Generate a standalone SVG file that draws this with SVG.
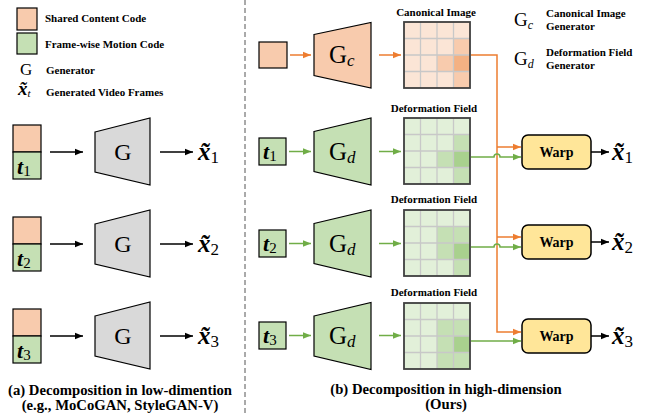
<svg xmlns="http://www.w3.org/2000/svg" width="651" height="415" viewBox="0 0 651 415">
<style>
text{font-family:"Liberation Serif","DejaVu Serif","Times New Roman",serif}
.lbl{font-weight:bold;font-size:11px;fill:#000}
.ttl{font-weight:bold;font-size:11px;fill:#000;text-anchor:middle}
.cap{font-weight:bold;font-size:14.7px;fill:#000;text-anchor:middle}
.m{fill:#000}
.xt{font-weight:bold;font-style:italic;fill:#000}
.wt{font-weight:bold;font-size:14px;fill:#000;text-anchor:middle}
.or{fill:#F8CBAD;stroke:#000;stroke-width:1.2}
.gr{fill:#C5E0B4;stroke:#000;stroke-width:1.2}
.gy{fill:#D9D9D9;stroke:#000;stroke-width:1.2}
.warp{fill:#FFE699;stroke:#000;stroke-width:1.5}
.ab{stroke:#000;stroke-width:1.5;fill:none}
.ao{stroke:#ED7D31;stroke-width:1.5;fill:none}
.ag{stroke:#70AD47;stroke-width:1.5;fill:none}
.gl{stroke:#C8C8C8;stroke-width:1.3;fill:none}
.bd{fill:none;stroke:#3F3F3F;stroke-width:1.8}
.ob{fill:#FBE5D6}.om{fill:#F8CBAD}.od{fill:#F4B183}
.gb{fill:#E2F0D9}.gm{fill:#C5E0B4}.gd{fill:#A9D18E}
</style>
<defs>
<marker id="hb" markerWidth="8" markerHeight="8" refX="8" refY="4" orient="auto" markerUnits="userSpaceOnUse"><path d="M0,0.8 L8,4 L0,7.2z" fill="#000"/></marker>
<marker id="ho" markerWidth="8" markerHeight="8" refX="8" refY="4" orient="auto" markerUnits="userSpaceOnUse"><path d="M0,0.8 L8,4 L0,7.2z" fill="#ED7D31"/></marker>
<marker id="hg" markerWidth="8" markerHeight="8" refX="8" refY="4" orient="auto" markerUnits="userSpaceOnUse"><path d="M0,0.8 L8,4 L0,7.2z" fill="#70AD47"/></marker>
</defs>

<g id="legend-left">
<rect class="or" x="17" y="8" width="20" height="22"/>
<text class="lbl" x="45" y="22">Shared Content Code</text>
<rect class="gr" x="17" y="33" width="20" height="21"/>
<text class="lbl" x="45" y="48">Frame-wise Motion Code</text>
<text class="m" x="20" y="75" font-size="17">G</text>
<text class="lbl" x="46" y="74">Generator</text>
<text class="xt" x="18" y="95" font-size="19">x&#x303;<tspan class="m" font-weight="normal" font-size="11" dy="2">t</tspan></text>
<text class="lbl" x="46" y="96">Generated Video Frames</text>
</g>

<g id="legend-right">
<text class="m" x="514" y="26" font-size="19">G<tspan font-size="12" font-style="italic" dy="3">c</tspan></text>
<text class="lbl" x="546" y="17">Canonical Image</text>
<text class="lbl" x="546" y="30">Generator</text>
<text class="m" x="514" y="65" font-size="19">G<tspan font-size="12" font-style="italic" dy="3">d</tspan></text>
<text class="lbl" x="546" y="56">Deformation Field</text>
<text class="lbl" x="546" y="69">Generator</text>
</g>

<line x1="245" y1="0" x2="245" y2="415" stroke="#555" stroke-width="1" stroke-dasharray="5,3"/>

<g id="code-a1"><rect class="or" x="13" y="125" width="28" height="27"/><rect class="gr" x="13" y="152" width="28" height="27"/><text class="xt" x="17" y="174" font-size="22">t<tspan class="m" font-weight="normal" font-style="normal" font-size="15" dy="2">1</tspan></text></g>
<g id="code-a2"><rect class="or" x="13" y="217" width="28" height="27"/><rect class="gr" x="13" y="244" width="28" height="27"/><text class="xt" x="17" y="266" font-size="22">t<tspan class="m" font-weight="normal" font-style="normal" font-size="15" dy="2">2</tspan></text></g>
<g id="code-a3"><rect class="or" x="13" y="309" width="28" height="27"/><rect class="gr" x="13" y="336" width="28" height="27"/><text class="xt" x="17" y="358" font-size="22">t<tspan class="m" font-weight="normal" font-style="normal" font-size="15" dy="2">3</tspan></text></g>

<g id="gen-a1"><path class="gy" d="M95,132 L150,118 L150,185 L95,172z"/><text class="m" x="123" y="160" font-size="24" text-anchor="middle">G</text></g>
<g id="gen-a2"><path class="gy" d="M95,224 L150,210 L150,277 L95,264z"/><text class="m" x="123" y="252" font-size="24" text-anchor="middle">G</text></g>
<g id="gen-a3"><path class="gy" d="M95,316 L150,302 L150,369 L95,356z"/><text class="m" x="123" y="344" font-size="24" text-anchor="middle">G</text></g>

<g id="out-a1"><text class="xt" x="198" y="160" font-size="25">x&#x303;<tspan class="m" font-weight="normal" font-style="normal" font-size="17" dy="3">1</tspan></text></g>
<g id="out-a2"><text class="xt" x="198" y="252" font-size="25">x&#x303;<tspan class="m" font-weight="normal" font-style="normal" font-size="17" dy="3">2</tspan></text></g>
<g id="out-a3"><text class="xt" x="198" y="344" font-size="25">x&#x303;<tspan class="m" font-weight="normal" font-style="normal" font-size="17" dy="3">3</tspan></text></g>

<g id="content-code"><rect class="or" x="259" y="42" width="28" height="26"/></g>
<g id="gen-c"><path class="or" d="M314,34.5 L371,22.5 L371,88 L314,75.5z"/><text class="m" x="329" y="63" font-size="25">G<tspan font-size="17" font-style="italic" dy="3">c</tspan></text></g>

<g id="code-b1"><rect class="gr" x="259" y="138" width="27" height="27"/><text class="xt" x="263" y="159" font-size="22">t<tspan class="m" font-weight="normal" font-style="normal" font-size="15" dy="2">1</tspan></text></g>
<g id="code-b2"><rect class="gr" x="259" y="230" width="27" height="27"/><text class="xt" x="263" y="251" font-size="22">t<tspan class="m" font-weight="normal" font-style="normal" font-size="15" dy="2">2</tspan></text></g>
<g id="code-b3"><rect class="gr" x="259" y="322" width="27" height="27"/><text class="xt" x="263" y="343" font-size="22">t<tspan class="m" font-weight="normal" font-style="normal" font-size="15" dy="2">3</tspan></text></g>

<g id="gen-d1"><path class="gr" d="M314,131.5 L371,118 L371,185 L314,171.5z"/><text class="m" x="329" y="160" font-size="25">G<tspan font-size="17" font-style="italic" dy="3">d</tspan></text></g>
<g id="gen-d2"><path class="gr" d="M314,223.5 L371,210 L371,277 L314,263.5z"/><text class="m" x="329" y="252" font-size="25">G<tspan font-size="17" font-style="italic" dy="3">d</tspan></text></g>
<g id="gen-d3"><path class="gr" d="M314,316 L371,302.5 L371,369.5 L314,356z"/><text class="m" x="329" y="344" font-size="25">G<tspan font-size="17" font-style="italic" dy="3">d</tspan></text></g>

<g id="canonical-image">
<text class="ttl" x="436" y="16">Canonical Image</text>
<rect class="ob" x="404" y="22" width="66" height="66"/>
<rect class="om" x="453.5" y="38.5" width="16.5" height="16.5"/>
<rect class="om" x="437" y="55" width="16.5" height="16.5"/>
<rect class="od" x="453.5" y="55" width="16.5" height="16.5"/>
<rect class="om" x="453.5" y="71.5" width="16.5" height="16.5"/>
<path class="gl" d="M420.5,22V88M437,22V88M453.5,22V88M404,38.5H470M404,55H470M404,71.5H470"/>
<rect class="bd" x="404" y="22" width="66" height="66"/>
</g>

<g id="deform-1">
<text class="ttl" x="434" y="112">Deformation Field</text>
<rect class="gb" x="404" y="118" width="66" height="66"/>
<rect class="gm" x="453.5" y="134.5" width="16.5" height="16.5"/>
<rect class="gm" x="437" y="151" width="16.5" height="16.5"/>
<rect class="gd" x="453.5" y="151" width="16.5" height="16.5"/>
<rect class="gm" x="453.5" y="167.5" width="16.5" height="16.5"/>
<path class="gl" d="M420.5,118V184M437,118V184M453.5,118V184M404,134.5H470M404,151H470M404,167.5H470"/>
<rect class="bd" x="404" y="118" width="66" height="66"/>
</g>

<g id="deform-2">
<text class="ttl" x="434" y="203">Deformation Field</text>
<rect class="gb" x="404" y="210" width="66" height="66"/>
<rect class="gm" x="437" y="226.5" width="16.5" height="16.5"/>
<rect class="gm" x="453.5" y="226.5" width="16.5" height="16.5"/>
<rect class="gm" x="437" y="243" width="16.5" height="16.5"/>
<rect class="gd" x="453.5" y="243" width="16.5" height="16.5"/>
<rect class="gm" x="453.5" y="259.5" width="16.5" height="16.5"/>
<path class="gl" d="M420.5,210V276M437,210V276M453.5,210V276M404,226.5H470M404,243H470M404,259.5H470"/>
<rect class="bd" x="404" y="210" width="66" height="66"/>
</g>

<g id="deform-3">
<text class="ttl" x="434" y="296">Deformation Field</text>
<rect class="gb" x="404" y="303" width="66" height="66"/>
<rect class="gm" x="437" y="319.5" width="16.5" height="16.5"/>
<rect class="gm" x="453.5" y="319.5" width="16.5" height="16.5"/>
<rect class="gm" x="437" y="336" width="16.5" height="16.5"/>
<rect class="gd" x="453.5" y="336" width="16.5" height="16.5"/>
<rect class="gm" x="437" y="352.5" width="16.5" height="16.5"/>
<rect class="gm" x="453.5" y="352.5" width="16.5" height="16.5"/>
<path class="gl" d="M420.5,303V369M437,303V369M453.5,303V369M404,319.5H470M404,336H470M404,352.5H470"/>
<rect class="bd" x="404" y="303" width="66" height="66"/>
</g>

<g id="warp-1"><rect class="warp" x="522" y="135" width="69" height="34" rx="6"/><text class="wt" x="556.5" y="157">Warp</text></g>
<g id="warp-2"><rect class="warp" x="522" y="225" width="69" height="34" rx="6"/><text class="wt" x="556.5" y="247">Warp</text></g>
<g id="warp-3"><rect class="warp" x="522" y="319" width="69" height="34" rx="6"/><text class="wt" x="556.5" y="341">Warp</text></g>

<g id="out-b1"><text class="xt" x="612" y="160" font-size="25">x&#x303;<tspan class="m" font-weight="normal" font-style="normal" font-size="17" dy="3">1</tspan></text></g>
<g id="out-b2"><text class="xt" x="612" y="250" font-size="25">x&#x303;<tspan class="m" font-weight="normal" font-style="normal" font-size="17" dy="3">2</tspan></text></g>
<g id="out-b3"><text class="xt" x="612" y="344" font-size="25">x&#x303;<tspan class="m" font-weight="normal" font-style="normal" font-size="17" dy="3">3</tspan></text></g>

<g id="connectors">
<line class="ab" x1="50" y1="152" x2="83" y2="152" marker-end="url(#hb)"/>
<line class="ab" x1="50" y1="244" x2="83" y2="244" marker-end="url(#hb)"/>
<line class="ab" x1="50" y1="336" x2="83" y2="336" marker-end="url(#hb)"/>
<line class="ab" x1="160" y1="152" x2="193" y2="152" marker-end="url(#hb)"/>
<line class="ab" x1="160" y1="244" x2="193" y2="244" marker-end="url(#hb)"/>
<line class="ab" x1="160" y1="336" x2="193" y2="336" marker-end="url(#hb)"/>
<line class="ao" x1="290" y1="55" x2="311" y2="55" marker-end="url(#ho)"/>
<line class="ao" x1="379" y1="55" x2="401" y2="55" marker-end="url(#ho)"/>
<line class="ag" x1="289" y1="151.5" x2="311" y2="151.5" marker-end="url(#hg)"/>
<line class="ag" x1="289" y1="243.5" x2="311" y2="243.5" marker-end="url(#hg)"/>
<line class="ag" x1="289" y1="335.5" x2="311" y2="335.5" marker-end="url(#hg)"/>
<line class="ag" x1="379" y1="151.5" x2="401" y2="151.5" marker-end="url(#hg)"/>
<line class="ag" x1="379" y1="243.5" x2="401" y2="243.5" marker-end="url(#hg)"/>
<line class="ag" x1="379" y1="335.5" x2="401" y2="335.5" marker-end="url(#hg)"/>
<path class="ao" d="M471,55 H497 V332 H521" marker-end="url(#ho)"/>
<path class="ao" d="M497,147 H521" marker-end="url(#ho)"/>
<path class="ao" d="M497,237 H521" marker-end="url(#ho)"/>
<path class="ag" d="M471,157 H494 a3,3 0 0 1 6,0 H521" marker-end="url(#hg)"/>
<path class="ag" d="M471,247 H494 a3,3 0 0 1 6,0 H521" marker-end="url(#hg)"/>
<path class="ag" d="M471,341 H521" marker-end="url(#hg)"/>
<line class="ab" x1="591" y1="152" x2="609" y2="152" marker-end="url(#hb)"/>
<line class="ab" x1="591" y1="242" x2="609" y2="242" marker-end="url(#hb)"/>
<line class="ab" x1="591" y1="336" x2="609" y2="336" marker-end="url(#hb)"/>
</g>

<g id="captions">
<text class="cap" x="120" y="395">(a) Decomposition in low-dimention</text>
<text class="cap" x="120" y="410">(e.g., MoCoGAN, StyleGAN-V)</text>
<text class="cap" x="446" y="394">(b) Decomposition in high-dimension</text>
<text class="cap" x="446" y="409">(Ours)</text>
</g>
</svg>
